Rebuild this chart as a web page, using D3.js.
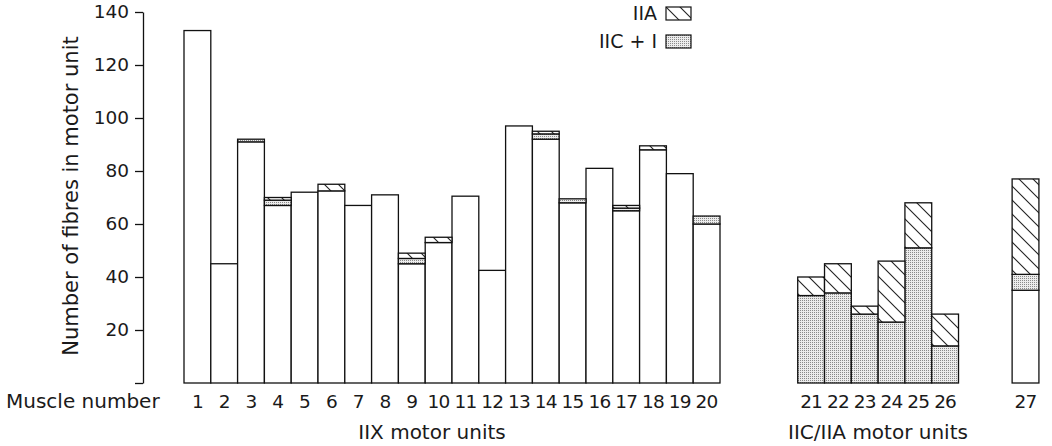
<!DOCTYPE html>
<html>
<head>
<meta charset="utf-8">
<script src="https://cdn.jsdelivr.net/npm/d3@7"></script>
<style>
  body { margin: 0; background: #fff; }
  svg { display: block; }
  text { font-family: "DejaVu Sans", sans-serif; fill: #1a1a1a; }
</style>
</head>
<body>
<svg id="chart" width="1052" height="446"></svg>
<script>
// muscle numbers and fibre counts per fibre type (bottom to top of each bar)
const muscles = d3.range(1, 28);
const iixFibres = [133, 45, 91, 67, 72, 72.5, 67, 71, 45, 53, 70.5, 42.5, 97, 92, 68, 81, 65, 88, 79, 60,
                   0, 0, 0, 0, 0, 0, 35];
const iicFibres = [0, 0, 1, 2, 0, 0, 0, 0, 2, 0, 0, 0, 0, 2, 1.5, 0, 1, 0, 0, 3,
                   33, 34, 26, 23, 51, 14, 6];
const iiaFibres = [0, 0, 0, 1, 0, 2.5, 0, 0, 2, 2, 0, 0, 0, 1, 0, 0, 1, 1.5, 0, 0,
                   7, 11, 3, 23, 17, 12, 36];
const groupOf = [...Array(20).fill(0), ...Array(6).fill(1), 2];
const groupNames = ["IIX motor units", "IIC/IIA motor units", ""];
const yTicks = [0, 20, 40, 60, 80, 100, 120, 140];
const legendItems = ["IIA", "IIC + I"];

const svg = d3.select("#chart");
const barW = 26.8;
const x0 = 184;
const groupGap = [0, 2.9, 4.9]; // extra slots inserted before each group

// slot index of each muscle along the x axis
const slot = (d, i) => i + groupGap[groupOf[i]];
const x = d3.scaleLinear().domain([0, 1]).range([x0, x0 + barW]);
const y = d3.scaleLinear().domain([0, 140]).range([383, 12]);

// patterns
const defs = svg.append("defs");
const hatch = defs.append("pattern")
    .attr("id", "hatch").attr("patternUnits", "userSpaceOnUse")
    .attr("width", 14).attr("height", 14);
hatch.append("rect").attr("width", 14).attr("height", 14).attr("fill", "#fff");
hatch.append("path")
    .attr("d", "M-2,-2 L16,16 M-9,5 L5,19 M5,-9 L19,5")
    .attr("stroke", "#222").attr("stroke-width", 1.1);

const dots = defs.append("pattern")
    .attr("id", "dots").attr("patternUnits", "userSpaceOnUse")
    .attr("width", 2).attr("height", 2);
dots.append("rect").attr("width", 2).attr("height", 2).attr("fill", "#ececec");
dots.append("rect").attr("width", 1).attr("height", 1).attr("fill", "#8a8a8a");

// stacked segments
const stackData = muscles.map((m, i) => ({
  muscle: m, i: i,
  iix: iixFibres[i], iic: iicFibres[i], iia: iiaFibres[i]
}));
const keys = ["iix", "iic", "iia"];
const fills = { iix: "#fff", iic: "url(#dots)", iia: "url(#hatch)" };
const series = d3.stack().keys(keys)(stackData);

const barsG = svg.append("g");
series.forEach(s => {
  barsG.append("g").selectAll("rect")
    .data(s.filter(d => d[1] - d[0] > 0))
    .join("rect")
      .attr("x", d => x(slot(d.data, d.data.i)))
      .attr("width", barW)
      .attr("y", d => y(d[1]))
      .attr("height", d => y(d[0]) - y(d[1]))
      .attr("fill", fills[s.key])
      .attr("stroke", "#111")
      .attr("stroke-width", 1.3);
});

// y axis
const yAxis = d3.axisLeft(y)
    .tickValues(yTicks)
    .tickSize(8)
    .tickSizeOuter(0)
    .tickPadding(6)
    .tickFormat(d => d === 0 ? "" : d);
const yAxisG = svg.append("g")
    .attr("transform", "translate(143,0)")
    .call(yAxis);
yAxisG.select(".domain").attr("stroke", "#111").attr("stroke-width", 1.3);
yAxisG.selectAll(".tick line").attr("stroke", "#111").attr("stroke-width", 1.3);
yAxisG.selectAll(".tick text")
    .style("font-family", "DejaVu Sans, sans-serif")
    .style("font-size", "18.5px").attr("fill", "#1a1a1a");

svg.append("text")
    .attr("transform", "translate(72,196) rotate(-90)")
    .attr("text-anchor", "middle")
    .attr("dominant-baseline", "middle")
    .style("font-size", "21px")
    .text("Number of fibres in motor unit");

// x labels
svg.append("text")
    .attr("x", 6).attr("y", 408)
    .style("font-size", "20px")
    .text("Muscle number");

svg.append("g").selectAll("text")
    .data(muscles)
    .join("text")
      .attr("x", (d, i) => x(slot(d, i)) + barW / 2)
      .attr("y", 408)
      .attr("text-anchor", "middle")
      .style("font-size", "18.5px")
      .style("letter-spacing", "-0.8px")
      .text(d => d);

svg.append("text")
    .attr("x", 432).attr("y", 439)
    .attr("text-anchor", "middle")
    .style("font-size", "20px")
    .text(groupNames[0]);
svg.append("text")
    .attr("x", 878).attr("y", 439)
    .attr("text-anchor", "middle")
    .style("font-size", "20px")
    .text(groupNames[1]);

// legend
const legend = svg.append("g").attr("transform", "translate(666,7)");
legend.selectAll("rect")
    .data(legendItems)
    .join("rect")
      .attr("x", 0).attr("y", (d, i) => i * 28)
      .attr("width", 25).attr("height", 13)
      .attr("fill", (d, i) => i === 0 ? "url(#hatch)" : "url(#dots)")
      .attr("stroke", "#111").attr("stroke-width", 1.2);
legend.selectAll("text")
    .data(legendItems)
    .join("text")
      .attr("x", -9).attr("y", (d, i) => i * 28 + 13)
      .attr("text-anchor", "end")
      .style("font-size", "19px")
      .text(d => d);
</script>
</body>
</html>
